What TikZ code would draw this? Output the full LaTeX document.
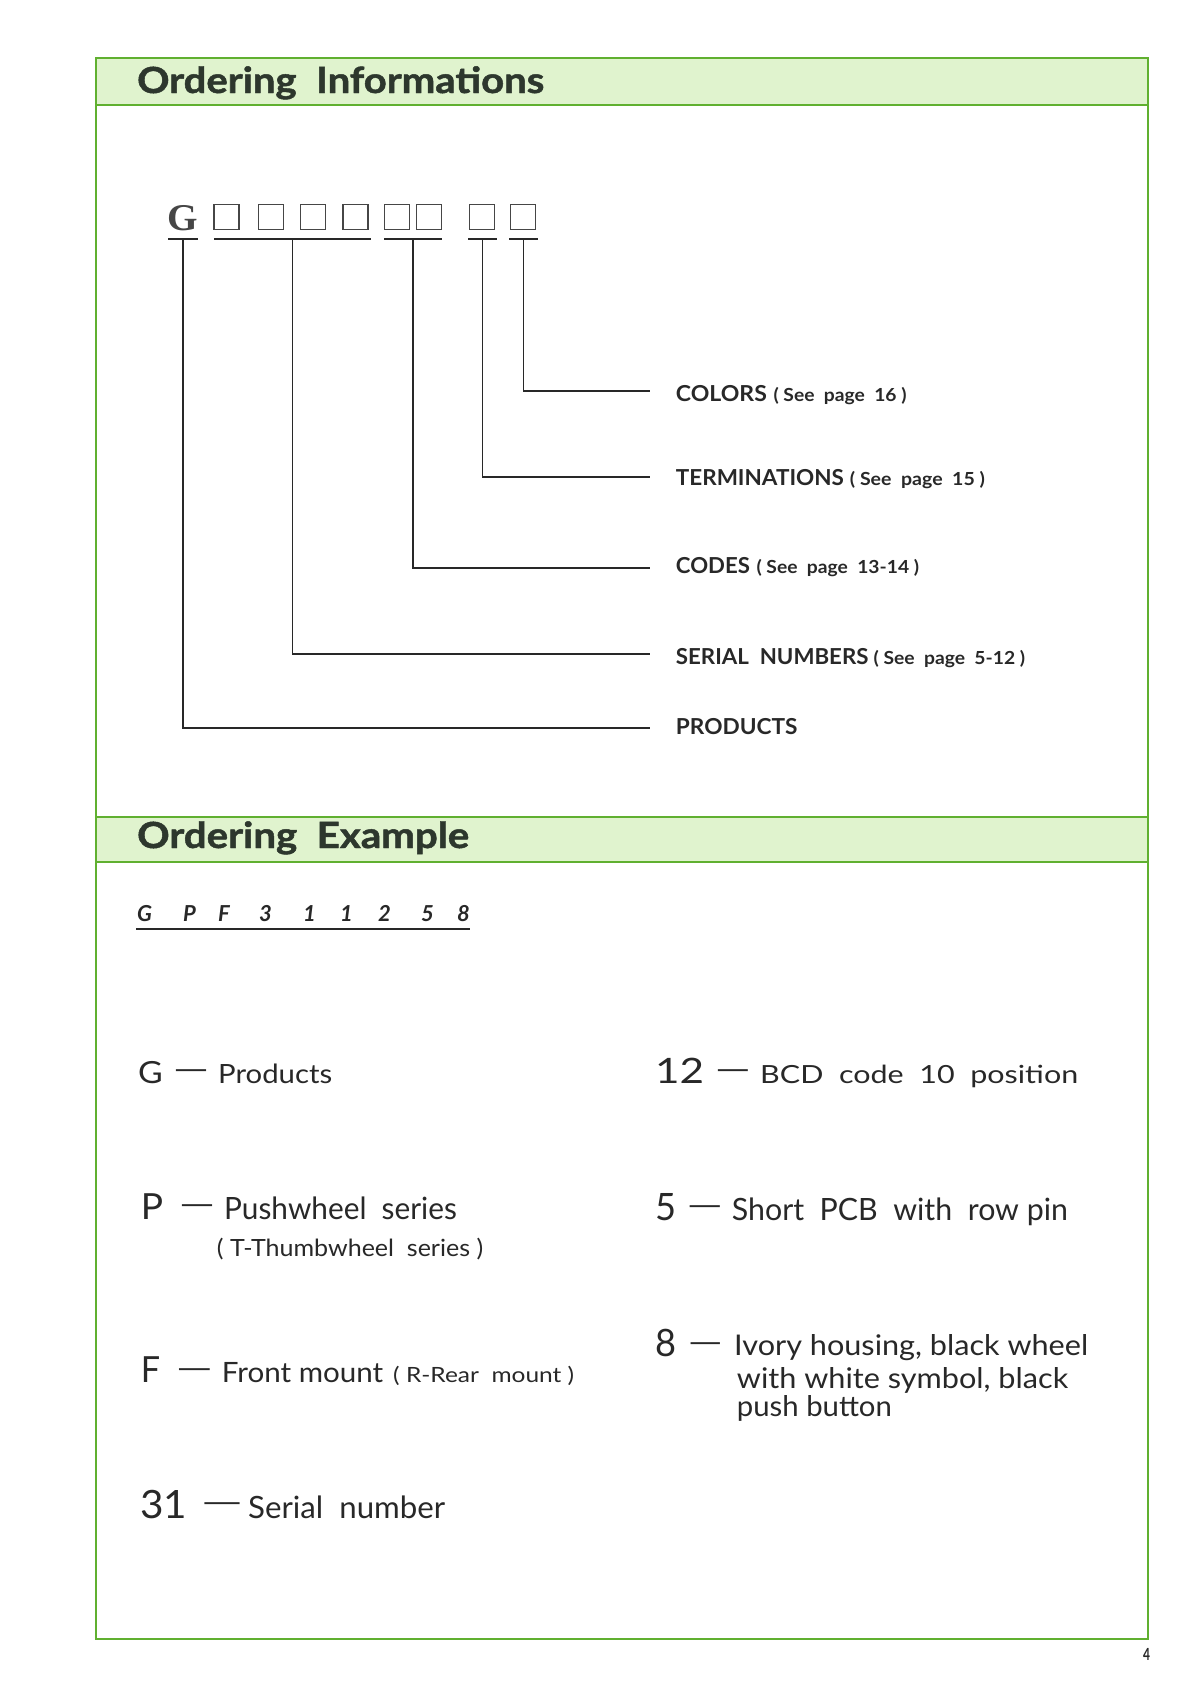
\documentclass[tikz,border=0pt]{standalone}
\usepackage{fontspec}
\usepackage{graphicx}
\setmainfont{Lato}
\newfontfamily\hdrfont{Lato}[BoldFeatures={FakeBold=1.3}]
\newfontfamily\serifG{Liberation Serif}
\newcommand{\fw}[2]{\resizebox{#1pt}{\height}{#2}}
\newcommand{\fs}[1]{\fontsize{#1}{#1}\selectfont}
\definecolor{frameg}{RGB}{96,176,48}
\definecolor{bandg}{RGB}{224,243,206}
\definecolor{textc}{RGB}{40,40,40}
\definecolor{hdrc}{RGB}{45,55,45}
\definecolor{boxc}{RGB}{70,70,70}
\begin{document}
\begin{tikzpicture}[x=1pt,y=-1pt,
  frame/.style={draw=frameg,line width=2pt},
  hdr/.style={anchor=base west,inner sep=0pt,text=hdrc,font=\hdrfont\bfseries\fs{36}},
  txt/.style={anchor=base west,inner sep=0pt,text=textc},
  lbl/.style={txt,font=\bfseries\fs{22}},
  sq/.style={draw=boxc,line width=1.3pt,minimum size=25pt,inner sep=0pt},
  conn/.style={draw=textc,line width=1.5pt},
  ex/.style={txt,font=\bfseries\itshape\fs{22}},
  dsh/.style={txt,font=\fs{30}}
]
\useasboundingbox (0,0) rectangle (1200,1698);
\fill[white] (0,0) rectangle (1200,1698);
% frame and bands
\fill[bandg] (96,58) rectangle (1148,105);
\fill[bandg] (96,817) rectangle (1148,862);
\draw[frame] (96,58) rectangle (1148,1639);
\draw[frame] (96,105) -- (1148,105);
\draw[frame] (96,817) -- (1148,817);
\draw[frame] (96,862) -- (1148,862);
% headers
\node[hdr] (h1) at (137,93) {\fw{407}{Ordering\ \ Informations}};
\node[hdr] (h2) at (137,848) {\fw{332}{Ordering\ \ Example}};
% code
\node[txt,font=\serifG\bfseries\fs{37.8},text=boxc] (g0) at (167,230) {\fw{30.5}{G}};
\node[sq] (b1) at (226.5,217) {};
\node[sq] (b2) at (271,217) {};
\node[sq] (b3) at (313,217) {};
\node[sq] (b4) at (355.5,217) {};
\node[sq] (b5) at (397,217) {};
\node[sq] (b6) at (429,217) {};
\node[sq] (b7) at (482,217) {};
\node[sq] (b8) at (523,217) {};
% underlines
\draw[conn] (168,239) -- (198,239);
\draw[conn] (214,239) -- (371,239);
\draw[conn] (384,239) -- (442,239);
\draw[conn] (468,239) -- (497,239);
\draw[conn] (509,239) -- (538,239);
\coordinate (uG) at (183,239);
\coordinate (uS) at (292.5,239);
\coordinate (uC) at (413,239);
\coordinate (uT) at (482.5,239);
\coordinate (uK) at (523.5,239);
\coordinate (eK) at (650,391);
\coordinate (eT) at (650,477);
\coordinate (eC) at (650,568);
\coordinate (eS) at (650,654);
\coordinate (eG) at (650,728);
\draw[conn] (uK) |- (eK);
\draw[conn] (uT) |- (eT);
\draw[conn] (uC) |- (eC);
\draw[conn] (uS) |- (eS);
\draw[conn] (uG) |- (eG);
% labels
\node[lbl] (lK) at (675.7,401) {\fw{91}{COLORS}\hspace{6.6pt}{\fs{18}\fw{133}{( See\ \ page\ \ 16 )}}};
\node[lbl] (lT) at (675.7,485) {\fw{168}{TERMINATIONS}\hspace{6pt}{\fs{18}\fw{135}{( See\ \ page\ \ 15 )}}};
\node[lbl] (lC) at (675.7,573) {\fw{74}{CODES}\hspace{6.6pt}{\fs{18}\fw{162.6}{( See\ \ page\ \ 13-14 )}}};
\node[lbl] (lS) at (675.7,664) {\fw{192.6}{SERIAL\ \ NUMBERS}\hspace{5pt}{\fs{18}\fw{151.7}{( See\ \ page\ \ 5-12 )}}};
\node[lbl] (lG) at (675.7,734) {\fw{121.6}{PRODUCTS}};
% example code
\node[ex] (c1) at (137,921) {G};
\node[ex] (c2) at (183,921) {P};
\node[ex] (c3) at (218,921) {F};
\node[ex] (c4) at (259,921) {3};
\node[ex] (c5) at (303,921) {1};
\node[ex] (c6) at (340,921) {1};
\node[ex] (c7) at (378,921) {2};
\node[ex] (c8) at (421,921) {5};
\node[ex] (c9) at (457,921) {8};
\draw[conn] (136,929) -- (469.5,929);
% left column
\node[txt,font=\fs{30.5}] (xG) at (138,1083) {\fw{24.7}{G}};
\node[dsh] (dG) at (173,1079.5) {\fw{36}{—}};
\node[txt,font=\fs{26.5}] (tG) at (218,1083) {\fw{114}{Products}};
\node[txt,font=\fs{36}] (xP) at (140.7,1219) {\fw{22.3}{P}};
\node[dsh] (dP) at (179,1214.5) {\fw{36}{—}};
\node[txt,font=\fs{30.7}] (tP) at (224,1219) {\fw{232.7}{Pushwheel\ \ series}};
\node[txt,font=\fs{23.7}] (tP2) at (216.7,1256) {\fw{266.3}{( T-Thumbwheel\ \ series )}};
\node[txt,font=\fs{36}] (xF) at (140.7,1382) {\fw{19.3}{F}};
\node[dsh] (dF) at (176,1378.5) {\fw{36.7}{—}};
\node[txt,font=\fs{28}] (tF) at (221.7,1382) {\fw{161.3}{Front mount}};
\node[txt,font=\fs{21}] (tF2) at (393,1382) {\fw{181}{( R-Rear\ \ mount )}};
\node[txt,font=\fs{39}] (x31) at (140,1518) {\fw{47}{31}};
\node[dsh] (d31) at (201,1512.5) {\fw{42}{—}};
\node[txt,font=\fs{30.7}] (t31) at (248,1518) {\fw{197}{Serial\ \ number}};
% right column
\node[txt,font=\fs{35}] (x12) at (655,1083) {\fw{49}{12}};
\node[dsh] (d12) at (715,1079.5) {\fw{35.7}{—}};
\node[txt,font=\fs{25}] (t12) at (760,1083) {\fw{318}{BCD\ \ code\ \ 10\ \ position}};
\node[txt,font=\fs{37.7}] (x5) at (655,1220) {\fw{21}{5}};
\node[dsh] (d5) at (686.7,1215.5) {\fw{36}{—}};
\node[txt,font=\fs{30.7}] (t5) at (731.7,1220) {\fw{336}{Short\ \ PCB\ \ with\ \ row pin}};
\node[txt,font=\fs{37.7}] (x8) at (655,1356) {\fw{21}{8}};
\node[dsh] (d8) at (687.7,1352) {\fw{35}{—}};
\node[txt,font=\fs{28.5}] (t8a) at (734,1355.7) {\fw{354}{Ivory housing, black wheel}};
\node[txt,font=\fs{28.5}] (t8b) at (736.7,1388) {\fw{331.3}{with white symbol, black}};
\node[txt,font=\fs{28.5}] (t8c) at (736.7,1416) {\fw{155}{push button}};
% page number
\node[txt,font=\bfseries\fs{16.7}] (pg) at (1143,1660) {\fw{7}{4}};
\end{tikzpicture}
\end{document}
